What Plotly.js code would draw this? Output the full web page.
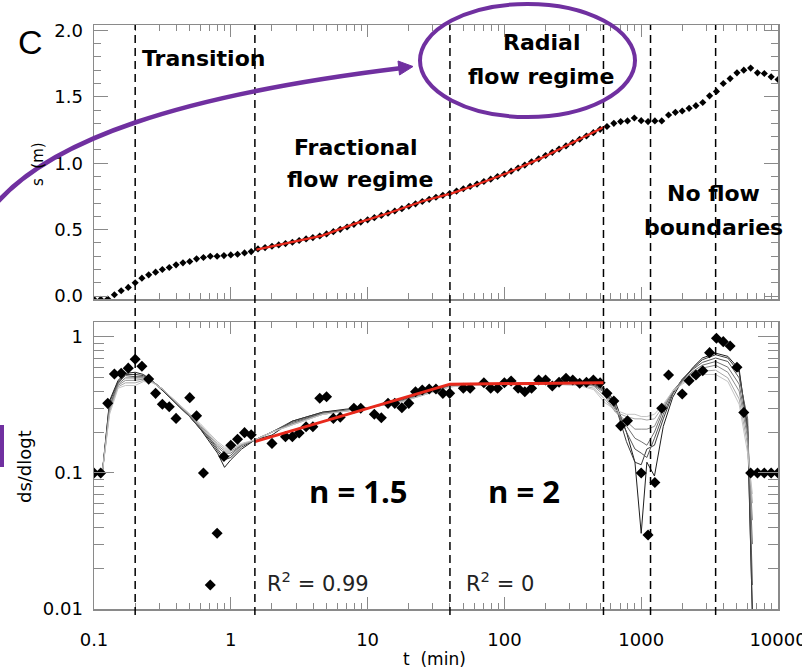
<!DOCTYPE html>
<html>
<head>
<meta charset="utf-8">
<script src="https://cdn.plot.ly/plotly-3.0.1.min.js"></script>
<style>html,body{margin:0;padding:0;background:#fff;}#plot{width:802px;height:671px;}</style>
</head>
<body>
<div id="plot"></div>
<script>
// ---------- DATA ----------
const timeMin = [0.1, 0.112, 0.126, 0.141, 0.158, 0.178, 0.2, 0.224, 0.251, 0.282,
  0.316, 0.355, 0.398, 0.447, 0.501, 0.562, 0.631, 0.708, 0.794, 0.891,
  1, 1.12, 1.26, 1.41, 1.58, 1.78, 2, 2.24, 2.51, 2.82,
  3.16, 3.55, 3.98, 4.47, 5.01, 5.62, 6.31, 7.08, 7.94, 8.91,
  10, 11.2, 12.6, 14.1, 15.8, 17.8, 20, 22.4, 25.1, 28.2,
  31.6, 35.5, 39.8, 44.7, 50.1, 56.2, 63.1, 70.8, 79.4, 89.1,
  100, 112, 126, 141, 158, 178, 200, 224, 251, 282,
  316, 355, 398, 447, 501, 562, 631, 708, 794, 891,
  1000, 1122, 1259, 1413, 1585, 1778, 1995, 2239, 2512, 2818,
  3162, 3548, 3981, 4467, 5012, 5623, 6310, 7079, 7943, 8913,
  10000];

const drawdown = [-0.025, -0.025, -0.022, 0.01, 0.04, 0.065, 0.10, 0.135, 0.16, 0.18,
  0.20, 0.215, 0.235, 0.25, 0.26, 0.28, 0.29, 0.30, 0.30, 0.305,
  0.31, 0.315, 0.325, 0.335, 0.355, 0.365, 0.375, 0.385, 0.395, 0.405,
  0.418, 0.43, 0.44, 0.452, 0.468, 0.485, 0.502, 0.52, 0.54, 0.557,
  0.574, 0.59, 0.607, 0.624, 0.64, 0.658, 0.676, 0.694, 0.712, 0.728,
  0.744, 0.758, 0.772, 0.79, 0.808, 0.826, 0.843, 0.862, 0.88, 0.9,
  0.918, 0.94, 0.963, 0.986, 1.01, 1.033, 1.058, 1.082, 1.106, 1.13,
  1.155, 1.18, 1.205, 1.23, 1.255, 1.276, 1.30, 1.313, 1.318, 1.34,
  1.32, 1.313, 1.318, 1.318, 1.363, 1.383, 1.393, 1.413, 1.433, 1.457,
  1.507, 1.54, 1.6, 1.637, 1.68, 1.70, 1.716, 1.68, 1.675, 1.65,
  1.63];

const derivative = [0.1, 0.1, 0.325, 0.535, 0.54, 0.59, 0.686, 0.61, 0.49, 0.385,
  0.32, 0.307, 0.252, null, 0.358, 0.263, 0.1, 0.015, 0.036, 0.132,
  0.16, 0.177, 0.198, 0.191, null, null, 0.165, null, 0.185, 0.185,
  0.197, 0.219, 0.219, 0.354, 0.364, 0.252, 0.257, null, 0.299, 0.299,
  null, 0.27, 0.255, 0.325, 0.325, 0.302, 0.325, 0.396, 0.408, 0.415,
  0.415, 0.385, 0.385, null, 0.42, 0.42, null, 0.461, 0.42, 0.42,
  0.461, 0.475, 0.42, 0.396, 0.42, 0.483, 0.483, 0.436, 0.465, 0.497,
  0.483, 0.457, 0.465, 0.483, 0.46, 0.385, 0.338, 0.222, 0.242, null,
  0.1, 0.035, 0.085, 0.299, 0.526, null, 0.381, 0.477, 0.526, 0.565,
  0.767, 0.978, 0.924, 0.859, 0.599, 0.278, 0.1, 0.1, 0.1, 0.1,
  0.1];

// red fits
const fitTopT = [1.54, 2.8, 4.66, 8.1, 14.5, 25.5, 41.7, 59.5, 104, 187, 323, 540];
const fitTopS = [0.35, 0.405, 0.455, 0.545, 0.627, 0.716, 0.775, 0.83, 0.925, 1.04, 1.16, 1.275];
const fitBotT = [1.5, 40, 530];
const fitBotD = [0.17, 0.45, 0.46];

// smoothed derivatives (different smoothing lengths), dark -> light
const smoothT = [0.1, 0.115, 0.13, 0.15, 0.17, 0.2, 0.23, 0.27, 0.32, 0.4,
  0.5, 0.6, 0.7, 0.8, 0.9, 1.0, 1.2, 1.5, 2, 2.8,
  4.7, 7, 10, 18, 30, 40, 60, 100, 200, 350,
  450, 540, 650, 780, 900, 1000, 1100, 1250, 1450, 1700,
  2000, 2400, 2800, 3500, 4300, 5200, 6000, 6500];
const smooth1 = [0.1,0.1,0.34,0.48,0.54,0.55,0.53,0.47,0.40,0.32, 0.26,0.21,0.17,0.14,0.11,0.125,0.15,0.175,0.19,0.24, 0.28,0.295,0.30,0.35,0.41,0.44,0.45,0.455,0.46,0.46, 0.455,0.42,0.33,0.2,0.12,0.036,0.12,0.095,0.22,0.36, 0.48,0.6,0.7,0.76,0.72,0.58,0.2,0.009];
const smooth2 = [0.1,0.1,0.33,0.47,0.53,0.53,0.52,0.47,0.40,0.32, 0.26,0.21,0.175,0.145,0.125,0.13,0.155,0.175,0.2,0.24, 0.28,0.29,0.30,0.345,0.40,0.44,0.45,0.455,0.46,0.46, 0.45,0.41,0.31,0.17,0.12,0.115,0.15,0.16,0.25,0.38, 0.49,0.59,0.68,0.74,0.70,0.55,0.22,0.009];
const smooth3 = [0.1,0.1,0.31,0.46,0.52,0.51,0.51,0.47,0.41,0.32, 0.26,0.215,0.18,0.15,0.13,0.135,0.16,0.175,0.2,0.235, 0.275,0.29,0.30,0.34,0.40,0.435,0.45,0.455,0.46,0.455, 0.445,0.40,0.30,0.2,0.15,0.14,0.13,0.18,0.27,0.39, 0.49,0.58,0.65,0.70,0.66,0.5,0.25,0.015];
const smooth4 = [0.1,0.1,0.30,0.45,0.50,0.50,0.50,0.47,0.41,0.325, 0.265,0.215,0.18,0.155,0.14,0.14,0.16,0.175,0.2,0.23, 0.275,0.29,0.30,0.34,0.40,0.435,0.45,0.455,0.455,0.455, 0.44,0.39,0.29,0.22,0.18,0.17,0.16,0.20,0.29,0.40, 0.48,0.56,0.62,0.66,0.60,0.45,0.2,0.03];
const smooth5 = [0.1,0.1,0.29,0.44,0.48,0.48,0.49,0.47,0.41,0.33, 0.27,0.22,0.185,0.16,0.145,0.145,0.16,0.175,0.2,0.23, 0.27,0.285,0.30,0.34,0.40,0.43,0.445,0.45,0.455,0.45, 0.435,0.37,0.28,0.24,0.21,0.21,0.21,0.22,0.30,0.40, 0.47,0.55,0.59,0.62,0.55,0.40,0.18,0.045];
const smooth6 = [0.1,0.1,0.28,0.43,0.46,0.46,0.48,0.46,0.41,0.33, 0.27,0.225,0.19,0.165,0.15,0.15,0.162,0.175,0.2,0.225, 0.27,0.285,0.30,0.335,0.395,0.43,0.445,0.45,0.45,0.445, 0.42,0.35,0.28,0.26,0.25,0.25,0.245,0.25,0.31,0.40, 0.46,0.53,0.56,0.57,0.50,0.35,0.16,0.06];
const smooth7 = [0.1,0.1,0.27,0.42,0.44,0.44,0.47,0.46,0.41,0.335, 0.275,0.23,0.195,0.17,0.155,0.155,0.165,0.175,0.2,0.225, 0.27,0.285,0.30,0.335,0.395,0.43,0.44,0.45,0.45,0.44, 0.41,0.33,0.29,0.27,0.27,0.26,0.26,0.27,0.32,0.40, 0.45,0.51,0.53,0.53,0.47,0.32,0.14,0.07];

const regimeBounds = [0.2, 1.5, 40, 530, 1170, 3500];

const xTickVals = [0.1, 1, 10, 100, 1000, 10000];
const xTickText = ['0.1', '1', '10', '100', '1000', '10000'];
const sTickVals = [0, 0.5, 1, 1.5, 2];
const sTickText = ['0.0', '0.5', '1.0', '1.5', '2.0'];
const dTickVals = [0.01, 0.1, 1];
const dTickText = ['0.01', '0.1', '1'];

// ---------- STYLE / LAYOUT ----------
const W = 802, H = 671;
const px = x => x / W;
const py = y => 1 - y / H;

const minorX = [];
for (let e = -1; e < 4; e++) for (let m = 2; m <= 9; m++) minorX.push(m * Math.pow(10, e));
const minorD = [];
for (let e = -2; e < 0; e++) for (let m = 2; m <= 9; m++) minorD.push(m * Math.pow(10, e));

const axCol = '#8a8a8a';
const tickFont = {family: 'DejaVu Sans, Liberation Sans, Arial', size: 18, color: '#000'};

const smoothSets = [smooth1, smooth2, smooth3, smooth4, smooth5, smooth6, smooth7];
const smoothCols = ['#1e1e1e', '#3a3a3a', '#555555', '#707070', '#8c8c8c', '#a8a8a8', '#c4c4c4'];

const traces = [];
smoothSets.forEach((s, i) => traces.push({
  x: smoothT, y: s, xaxis: 'x', yaxis: 'y', mode: 'lines',
  line: {color: smoothCols[i], width: 1}, hoverinfo: 'skip'
}));
traces.push({x: timeMin, y: derivative, xaxis: 'x', yaxis: 'y', mode: 'markers',
  marker: {symbol: 'diamond', size: 8.5, color: '#000'}});
traces.push({x: fitBotT, y: fitBotD, xaxis: 'x', yaxis: 'y', mode: 'lines',
  line: {color: '#e8291c', width: 3}});
traces.push({x: timeMin, y: drawdown, xaxis: 'x2', yaxis: 'y2', mode: 'markers',
  marker: {symbol: 'diamond', size: 5.5, color: '#000'}});
traces.push({x: fitTopT, y: fitTopS, xaxis: 'x2', yaxis: 'y2', mode: 'lines',
  line: {color: '#e8291c', width: 2.2}});

const xCommon = {
  type: 'log', range: [-1, 4], domain: [94 / W, 778 / W],
  tickmode: 'array', tickvals: xTickVals, ticktext: xTickText,
  ticks: 'inside', ticklen: 12, tickwidth: 1, tickcolor: axCol,
  minor: {tickmode: 'array', tickvals: minorX, ticks: 'inside', ticklen: 6, tickwidth: 1, tickcolor: axCol},
  showline: true, linecolor: axCol, linewidth: 1.5, mirror: 'ticks',
  showgrid: false, zeroline: false, tickfont: tickFont, ticklabelstandoff: 14,
  ticklabeloverflow: 'allow'
};

const layout = {
  width: W, height: H, margin: {l: 0, r: 0, t: 0, b: 0},
  paper_bgcolor: '#fff', plot_bgcolor: '#fff', showlegend: false,
  xaxis: Object.assign({}, xCommon, {anchor: 'y'}),
  xaxis2: Object.assign({}, xCommon, {anchor: 'y2', showticklabels: false}),
  yaxis: {
    type: 'log', range: [-2, 0.11], domain: [1 - 609 / H, 1 - 322 / H], anchor: 'x',
    tickmode: 'array', tickvals: dTickVals, ticktext: dTickText,
    ticks: 'inside', ticklen: 20, tickwidth: 1, tickcolor: axCol,
    minor: {tickmode: 'array', tickvals: minorD, ticks: 'inside', ticklen: 10, tickwidth: 1, tickcolor: axCol},
    showline: true, linecolor: axCol, linewidth: 1.5, mirror: 'ticks',
    showgrid: false, zeroline: false, tickfont: tickFont, ticklabelstandoff: 6
  },
  yaxis2: {
    range: [-0.022, 2.04], domain: [1 - 299 / H, 1 - 25 / H], anchor: 'x2',
    tickmode: 'array', tickvals: sTickVals, ticktext: sTickText,
    ticks: 'inside', ticklen: 14, tickwidth: 1, tickcolor: axCol,
    minor: {dtick: 0.1, ticks: 'inside', ticklen: 7, tickwidth: 1, tickcolor: axCol},
    showline: true, linecolor: axCol, linewidth: 1.5, mirror: 'ticks',
    showgrid: false, zeroline: false, tickfont: tickFont, ticklabelstandoff: 6
  },
  shapes: [],
  annotations: []
};

regimeBounds.forEach(t => layout.shapes.push({
  type: 'line', xref: 'x', yref: 'paper', x0: t, x1: t, y0: py(615), y1: py(25),
  line: {color: '#000', width: 1.5, dash: '8px,5px'}
}));

const purple = '#7030a0';
layout.shapes.push({
  type: 'path', xref: 'paper', yref: 'paper',
  path: `M ${px(-5)},${py(205)} C ${px(50)},${py(140)} ${px(180)},${py(95)} ${px(402)},${py(68)}`,
  line: {color: purple, width: 4.5}
});
layout.shapes.push({
  type: 'path', xref: 'paper', yref: 'paper',
  path: `M ${px(413)},${py(66.5)} L ${px(399.5)},${py(75)} L ${px(398)},${py(61)} Z`,
  fillcolor: purple, line: {color: purple, width: 1}
});
layout.shapes.push({
  type: 'circle', xref: 'paper', yref: 'paper',
  x0: px(420), x1: px(635), y0: py(117), y1: py(4),
  line: {color: purple, width: 4}
});
layout.shapes.push({
  type: 'rect', xref: 'paper', yref: 'paper',
  x0: px(0), x1: px(4), y0: py(467), y1: py(425),
  fillcolor: purple, line: {width: 0}
});

function label(text, x, y, font, extra) {
  layout.annotations.push(Object.assign({
    text: text, xref: 'paper', yref: 'paper', x: px(x), y: py(y),
    xanchor: 'center', yanchor: 'middle', showarrow: false, font: font
  }, extra || {}));
}
const boldF = {family: 'DejaVu Sans, Open Sans', size: 22, color: '#000', weight: 'bold'};
const nF = {family: 'Open Sans, DejaVu Sans', size: 31, color: '#000', weight: 'bold'};
const rF = {family: 'DejaVu Sans, Liberation Sans', size: 21, color: '#222'};
const titleF = {family: 'DejaVu Sans, Liberation Sans', size: 17, color: '#000'};

label('C', 30, 42, {family: 'Liberation Sans, Arial', size: 34, color: '#000'});
label('Transition', 204, 58, boldF);
label('Radial', 541, 43, boldF);
label('flow regime', 541, 76, boldF);
label('Fractional', 356, 147, boldF);
label('flow regime', 360, 180, boldF);
label('No flow', 713, 193, boldF);
label('boundaries', 713, 227, boldF);
label('n = 1.5', 358, 491, nF);
label('n = 2', 524, 491, nF);
label('R<sup>2</sup> = 0.99', 318, 582, rF);
label('R<sup>2</sup> = 0', 500, 582, rF);
label('s\u00a0\u00a0(m)', 38, 164, {family: 'DejaVu Sans', size: 15, color: '#000'}, {textangle: -90});
label('ds/dlogt', 25, 467, {family: 'DejaVu Sans', size: 18, color: '#000'}, {textangle: -90});
label('t\u00a0\u00a0(min)', 434, 659, titleF);

Plotly.newPlot('plot', traces, layout, {displayModeBar: false, staticPlot: true});
</script>
</body>
</html>
